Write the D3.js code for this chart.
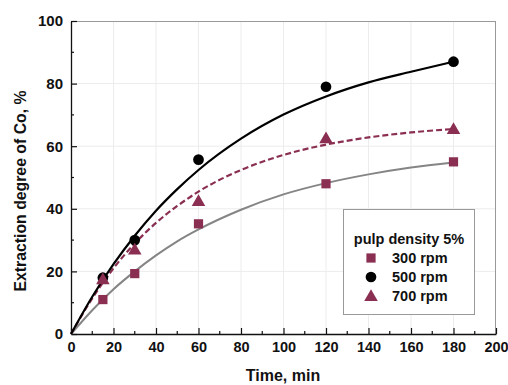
<!DOCTYPE html>
<html><head><meta charset="utf-8">
<script src="https://cdn.jsdelivr.net/npm/d3@7"></script>
<style>body{margin:0;background:#fff}svg{display:block}text{font-family:"Liberation Sans",Arial,sans-serif;font-weight:bold;fill:#111}</style>
</head><body>
<svg id="c" width="508" height="385"></svg>
<script>
// measured points
const times = [15, 30, 60, 120, 180];
const rpm300 = [11, 19.3, 35.2, 48, 55];
const rpm500 = [18, 30, 55.7, 79, 87];
const rpm700 = [17.5, 27, 42.5, 62.5, 65.5];
// fitted curves
const curveTimes = [0, 10, 20, 30, 40, 50, 60, 80, 100, 120, 140, 160, 180];
const fit300 = [0, 7.6, 14.3, 20.0, 25.1, 29.6, 33.4, 39.7, 44.6, 48.2, 51.0, 53.2, 54.8];
const fit500 = [0, 11.9, 22.3, 31.4, 39.4, 46.3, 52.4, 62.4, 70.1, 75.9, 80.4, 83.8, 87.0];
const fit700 = [0, 11.4, 21.0, 28.9, 35.5, 40.9, 45.5, 52.4, 57.2, 60.5, 62.8, 64.4, 65.5];
const xTicks = [0, 20, 40, 60, 80, 100, 120, 140, 160, 180, 200];
const yTicks = [0, 20, 40, 60, 80, 100];
const legendTitle = "pulp density 5%";
const legendLabels = ["300  rpm", "500 rpm", "700 rpm"];

const maroon = "#8a2f52";
const svg = d3.select("#c");
const L = 71, R = 496, T = 21, B = 334;
const x = d3.scaleLinear().domain([0, 200]).range([L, R]);
const y = d3.scaleLinear().domain([0, 100]).range([B, T]);

// grid
const g = svg.append("g");
g.selectAll(".gx").data(xTicks.slice(1, -1)).join("line")
  .attr("x1", d => x(d)).attr("x2", d => x(d)).attr("y1", T).attr("y2", B)
  .attr("stroke", "#ececec").attr("stroke-width", 1);
g.selectAll(".gy").data(yTicks.slice(1, -1)).join("line")
  .attr("x1", L).attr("x2", R).attr("y1", d => y(d)).attr("y2", d => y(d))
  .attr("stroke", "#ececec").attr("stroke-width", 1);

// frame top/right
svg.append("line").attr("x1", L).attr("x2", R).attr("y1", T + 0.5).attr("y2", T + 0.5).attr("stroke", "#999");
svg.append("line").attr("x1", R - 0.5).attr("x2", R - 0.5).attr("y1", T).attr("y2", B).attr("stroke", "#999");

// axes
const xMinor = d3.range(10, 200, 20);
const yMinor = d3.range(10, 100, 20);
const xa = svg.append("g").attr("transform", `translate(0,${B})`)
  .call(d3.axisBottom(x).tickValues(xTicks).tickSizeInner(-6).tickSizeOuter(0).tickPadding(10).tickFormat(d3.format("d")));
xa.select(".domain").attr("stroke", "#111").attr("stroke-width", 1.3);
xa.selectAll(".tick line").attr("stroke", "#111").attr("stroke-width", 1.2);
xa.selectAll("text").attr("font-size", 14.5).attr("dy", "0.55em");
svg.append("g").selectAll("line").data(xMinor).join("line")
  .attr("x1", d => x(d)).attr("x2", d => x(d)).attr("y1", B).attr("y2", B - 3)
  .attr("stroke", "#111").attr("stroke-width", 1.2);

const ya = svg.append("g").attr("transform", `translate(${L},0)`)
  .call(d3.axisLeft(y).tickValues(yTicks).tickSizeInner(-6).tickSizeOuter(0).tickPadding(8).tickFormat(d3.format("d")));
ya.select(".domain").attr("stroke", "#111").attr("stroke-width", 1.3);
ya.selectAll(".tick line").attr("stroke", "#111").attr("stroke-width", 1.2);
ya.selectAll("text").attr("font-size", 15);
svg.append("g").selectAll("line").data(yMinor).join("line")
  .attr("x1", L).attr("x2", L + 3).attr("y1", d => y(d)).attr("y2", d => y(d))
  .attr("stroke", "#111").attr("stroke-width", 1.2);

// axis titles
svg.append("text").attr("x", 283).attr("y", 381).attr("text-anchor", "middle")
  .attr("font-size", 16).text("Time, min");
svg.append("text").attr("transform", `translate(26,191) rotate(-90)`).attr("text-anchor", "middle")
  .attr("font-size", 15.8).text("Extraction degree of Co, %");

// curves
const line = d3.line().curve(d3.curveMonotoneX).x(d => x(d[0])).y(d => y(d[1]));
const zip = (a, b) => a.map((v, i) => [v, b[i]]);
svg.append("path").datum(zip(curveTimes, fit300)).attr("d", line)
  .attr("fill", "none").attr("stroke", "#858585").attr("stroke-width", 2);
svg.append("path").datum(zip(curveTimes, fit700)).attr("d", line)
  .attr("fill", "none").attr("stroke", maroon).attr("stroke-width", 2.2).attr("stroke-dasharray", "6,3");
svg.append("path").datum(zip(curveTimes, fit500)).attr("d", line)
  .attr("fill", "none").attr("stroke", "#000").attr("stroke-width", 2.2);

// markers
const sq = d3.symbol().type(d3.symbolSquare).size(85);
const ci = d3.symbol().type(d3.symbolCircle).size(90);
const tr = d3.symbol().type(d3.symbolTriangle).size(80);
svg.append("g").selectAll("path").data(zip(times, rpm300)).join("path")
  .attr("d", sq).attr("transform", d => `translate(${x(d[0])},${y(d[1])})`).attr("fill", maroon);
svg.append("g").selectAll("path").data(zip(times, rpm500)).join("path")
  .attr("d", ci).attr("transform", d => `translate(${x(d[0])},${y(d[1])})`).attr("fill", "#000");
svg.append("g").selectAll("path").data(zip(times, rpm700)).join("path")
  .attr("d", tr).attr("transform", d => `translate(${x(d[0])},${y(d[1]) + 1})`).attr("fill", maroon);

// legend
const lg = svg.append("g");
lg.append("rect").attr("x", 343.5).attr("y", 209.5).attr("width", 131).attr("height", 105)
  .attr("fill", "#fff").attr("stroke", "#999").attr("stroke-width", 1);
lg.append("text").attr("x", 409).attr("y", 244).attr("text-anchor", "middle").attr("font-size", 14.5).text(legendTitle);
const syms = [sq, ci, tr];
const fills = [maroon, "#000", maroon];
legendLabels.forEach((lab, i) => {
  const cy = 258 + i * 19;
  lg.append("path").attr("d", syms[i]).attr("transform", `translate(371,${cy + (i === 2 ? 1 : 0)})`).attr("fill", fills[i]);
  lg.append("text").attr("x", 392).attr("y", cy + 5).attr("font-size", 14.5).text(lab);
});
</script>
</body></html>
